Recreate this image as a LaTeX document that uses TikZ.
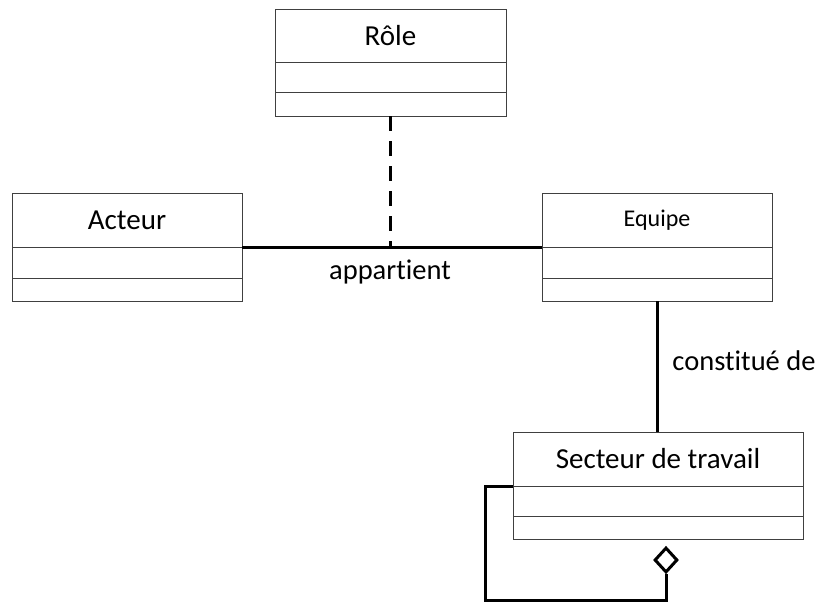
\documentclass[tikz,border=0pt]{standalone}
\usepackage{fontspec}
\setmainfont[Ligatures=NoCommon]{Carlito}
\usetikzlibrary{positioning}
\usetikzlibrary{shapes.geometric}

\tikzset{
  titre/.style={draw=black!75,line width=1pt,inner sep=0pt,outer sep=0pt,
    anchor=north west,minimum height=54pt,font=\fontsize{29}{35}\selectfont},
  compart/.style={draw=black!75,line width=1pt,inner sep=0pt,outer sep=0pt},
  assoc/.style={line width=3pt},
  dependance/.style={line width=3pt,dash pattern=on 15pt off 10pt},
  etiquette/.style={font=\fontsize{28.5}{34}\selectfont},
}

\begin{document}
\begin{tikzpicture}[x=1pt,y=-1pt]
\useasboundingbox (0,0) rectangle (816,603);
% classes
\node[titre,minimum width=231pt,minimum height=53pt] (role) at (275,9) {Rôle};
\node[compart,minimum width=231pt,minimum height=30pt,below=0pt of role] (role-a) {};
\node[compart,minimum width=231pt,minimum height=24pt,below=0pt of role-a] (role-o) {};

\node[titre,minimum width=230pt] (acteur) at (12,193) {Acteur};
\node[compart,minimum width=230pt,minimum height=31pt,below=0pt of acteur] (acteur-a) {};
\node[compart,minimum width=230pt,minimum height=23pt,below=0pt of acteur-a] (acteur-o) {};

\node[titre,minimum width=230pt,font=\fontsize{24}{29}\selectfont] (equipe) at (542,193) {Equipe};
\node[compart,minimum width=230pt,minimum height=31pt,below=0pt of equipe] (equipe-a) {};
\node[compart,minimum width=230pt,minimum height=23pt,below=0pt of equipe-a] (equipe-o) {};

\node[titre,minimum width=290pt] (secteur) at (513,432) {Secteur de travail};
\node[compart,minimum width=290pt,minimum height=30pt,below=0pt of secteur] (secteur-a) {};
\node[compart,minimum width=290pt,minimum height=23pt,below=0pt of secteur-a] (secteur-o) {};

% associations
\draw[assoc] (acteur.south east) -- coordinate[pos=0.493] (milieu) (equipe.south west);
\node[etiquette] (appartient) at (390,272) {appartient};
\draw[dependance] (role-o.south) -- (role-o.south |- milieu);

\draw[assoc] (equipe-o.south) -- (equipe-o.south |- secteur.north);
\node[etiquette] (constitue) at (744,361) {constitué de};

% agregation sur elle-meme
\node[diamond,draw,line width=3pt,inner sep=0pt,minimum width=23pt,minimum height=25pt] (losange) at (666,560) {};
\coordinate (coin) at (485,600);
\draw[assoc] (secteur.south west) -| (coin) -| (losange.south);
\end{tikzpicture}
\end{document}
